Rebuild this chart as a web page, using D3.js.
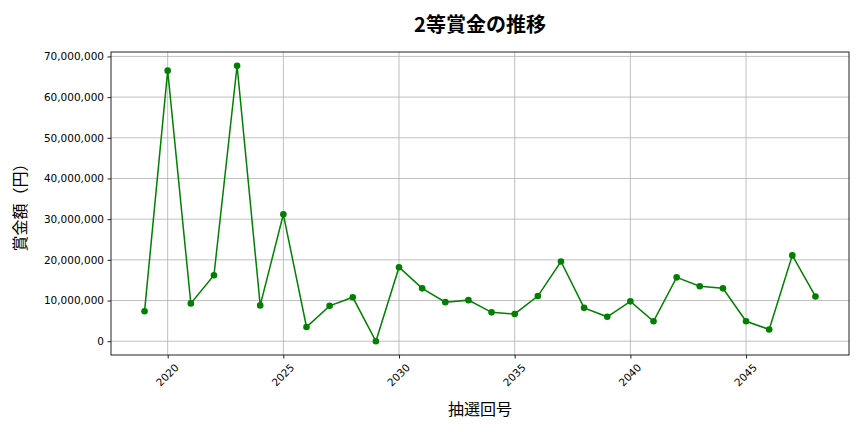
<!DOCTYPE html>
<html>
<head>
<meta charset="utf-8">
<script src="https://cdn.jsdelivr.net/npm/d3@7"></script>
<style>
  body { margin: 0; background: #fff; }
  svg, svg text { font-family: "Noto Sans CJK JP", "Noto Sans", sans-serif; }
  svg .tick text { font-family: "DejaVu Sans", sans-serif; }
</style>
</head>
<body>
<svg id="chart"></svg>
<script>
// draw numbers (x) and 2nd prize amounts in yen (y)
const draws = [2019, 2020, 2021, 2022, 2023, 2024, 2025, 2026, 2027, 2028,
  2029, 2030, 2031, 2032, 2033, 2034, 2035, 2036, 2037, 2038,
  2039, 2040, 2041, 2042, 2043, 2044, 2045, 2046, 2047, 2048];
const prizes = [7350000, 66500000, 9300000, 16200000, 67700000, 8800000, 31200000, 3500000, 8700000, 10800000,
  0, 18200000, 13000000, 9600000, 10100000, 7100000, 6700000, 11100000, 19600000, 8200000,
  6000000, 9800000, 4900000, 15700000, 13500000, 13000000, 4900000, 2900000, 21100000, 11000000];
const xTicks = [2020, 2025, 2030, 2035, 2040, 2045];
const yTicks = [0, 10000000, 20000000, 30000000, 40000000, 50000000, 60000000, 70000000];

function drawChart() {
  const W = 864, H = 432;
  const margin = { left: 111, right: 15, top: 52, bottom: 77 };
  const iw = W - margin.left - margin.right;
  const ih = H - margin.top - margin.bottom;

  const svg = d3.select('#chart').attr('width', W).attr('height', H);

  // matplotlib-like 5% margins
  const xExt = d3.extent(draws), xPad = (xExt[1] - xExt[0]) * 0.05;
  const yExt = d3.extent(prizes), yPad = (yExt[1] - yExt[0]) * 0.05;
  const x = d3.scaleLinear().domain([xExt[0] - xPad, xExt[1] + xPad]).range([0, iw]);
  const y = d3.scaleLinear().domain([yExt[0] - yPad, yExt[1] + yPad]).range([ih, 0]);

  const g = svg.append('g').attr('transform', `translate(${margin.left},${margin.top})`);

  // grid
  g.append('g').selectAll('line.vx').data(xTicks).enter()
    .append('line')
    .attr('x1', d => x(d)).attr('x2', d => x(d))
    .attr('y1', 0).attr('y2', ih)
    .attr('stroke', '#b0b0b0').attr('stroke-width', 0.8);
  g.append('g').selectAll('line.hy').data(yTicks).enter()
    .append('line')
    .attr('x1', 0).attr('x2', iw)
    .attr('y1', d => y(d)).attr('y2', d => y(d))
    .attr('stroke', '#b0b0b0').attr('stroke-width', 0.8);

  // axes
  const xAxis = g.append('g').attr('transform', `translate(0,${ih})`)
    .call(d3.axisBottom(x).tickValues(xTicks).tickFormat(d3.format('d')).tickSize(3.5).tickPadding(3));
  xAxis.attr('font-family', null);
  xAxis.select('.domain').remove();
  xAxis.selectAll('.tick line').attr('stroke', '#222');
  xAxis.selectAll('.tick text')
    .attr('font-size', 10.5).attr('fill', '#000')
    .attr('text-anchor', 'end')
    .attr('dy', '0.35em')
    .attr('transform', 'translate(4,6) rotate(-45)');

  const yAxis = g.append('g')
    .call(d3.axisLeft(y).tickValues(yTicks).tickFormat(d3.format(',')).tickSize(3.5).tickPadding(3.5));
  yAxis.attr('font-family', null);
  yAxis.select('.domain').remove();
  yAxis.selectAll('.tick line').attr('stroke', '#222');
  yAxis.selectAll('.tick text').attr('font-size', 10.5).attr('fill', '#000');

  g.append('rect').attr('width', iw).attr('height', ih)
    .attr('fill', 'none').attr('stroke', '#222').attr('stroke-width', 1);

  // line + markers
  const pts = draws.map((d, i) => ({ draw: d, prize: prizes[i] }));
  g.append('path').datum(pts)
    .attr('d', d3.line().x(d => x(d.draw)).y(d => y(d.prize)))
    .attr('fill', 'none').attr('stroke', 'green').attr('stroke-width', 1.5);
  g.selectAll('circle').data(pts).enter()
    .append('circle')
    .attr('cx', d => x(d.draw)).attr('cy', d => y(d.prize))
    .attr('r', 3.3).attr('fill', 'green');

  // titles
  svg.append('text').attr('x', margin.left + iw / 2).attr('y', 32)
    .attr('text-anchor', 'middle').attr('font-size', 20).attr('font-weight', 'bold')
    .text('2等賞金の推移');
  svg.append('text').attr('x', margin.left + iw / 2).attr('y', 415)
    .attr('text-anchor', 'middle').attr('font-size', 16)
    .text('抽選回号');
  svg.append('text')
    .attr('transform', `translate(26,${margin.top + ih / 2}) rotate(-90)`)
    .attr('text-anchor', 'middle').attr('font-size', 16)
    .text('賞金額（円）');
}

drawChart();
</script>
</body>
</html>
